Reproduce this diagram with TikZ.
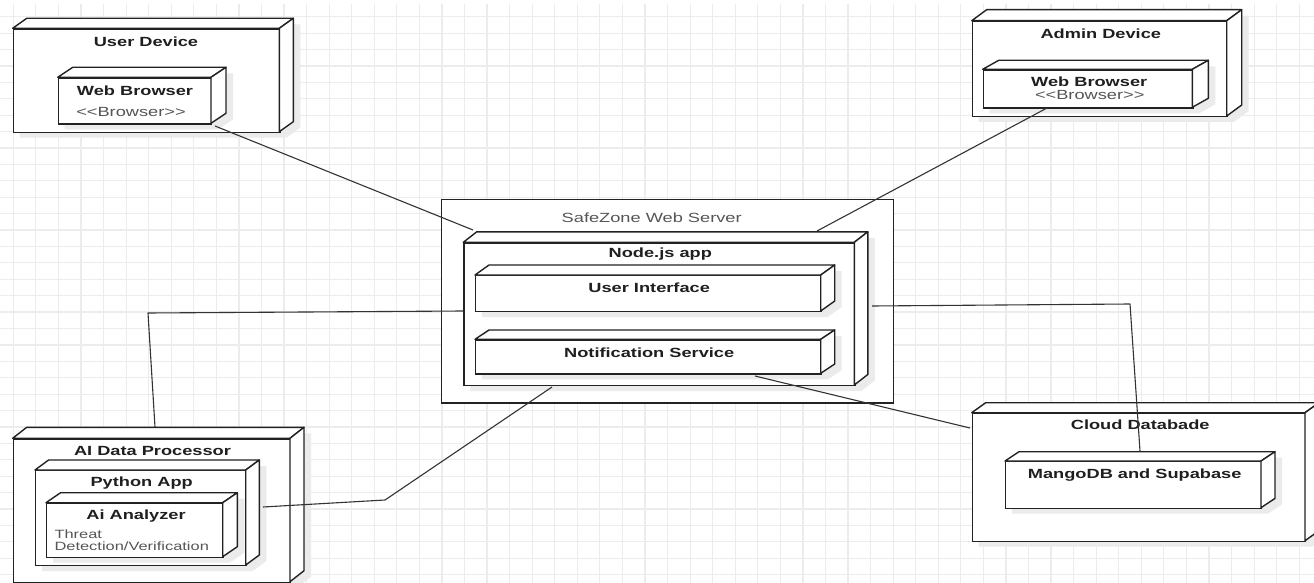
\documentclass[tikz,border=0pt]{standalone}
\usepackage{fontspec}
\setmainfont{Liberation Sans}[FakeStretch=1.37]
\usetikzlibrary{calc}
\definecolor{gridc}{HTML}{ECECEC}
\definecolor{shadc}{HTML}{EBEBEB}
\definecolor{edgec}{HTML}{222222}
\definecolor{linec}{HTML}{333333}
\definecolor{txtgray}{HTML}{555555}
\tikzset{
  front/.style={draw=edgec, fill=white, line width=1.4pt, inner sep=0pt, rectangle, anchor=north west},
  face/.style={draw=edgec, fill=white, line width=1.4pt, line join=round},
  shade3d/.style={fill=shadc},
  btxt/.style={font=\fontsize{13.3}{15}\selectfont\bfseries, text=black!88, inner sep=0pt},
  gtxt/.style={font=\fontsize{13.3}{15}\selectfont, text=txtgray, inner sep=0pt},
  stxt/.style={font=\fontsize{12}{11.7}\selectfont, text=txtgray, inner sep=0pt, align=left, anchor=north west},
  conn/.style={draw=linec, line width=1.1pt, line join=round},
  gridline/.style={draw=gridc, line width=1.2pt}
}
% name, x1, y1, x2, y2, dx, dy  (image pixel coordinates, y down)
\newcommand\mycube[7]{%
  \pgfmathsetmacro\cw{#4-#2}\pgfmathsetmacro\ch{#5-#3}%
  \fill[shade3d] (#2+7,#5+6) -- (#2+7,#3+6) -- (#2+7+#6,#3+6-#7) -- (#4+7+#6,#3+6-#7)
        -- (#4+7+#6,#5+6-#7) -- (#4+7,#5+6) -- cycle;
  \node[front, minimum width=\cw pt, minimum height=\ch pt] (#1) at (#2,#3) {};
  \filldraw[face] (#2,#3) -- (#2+#6,#3-#7) -- (#4+#6,#3-#7) -- (#4,#3) -- cycle;
  \filldraw[face] (#4,#3) -- (#4+#6,#3-#7) -- (#4+#6,#5-#7) -- (#4,#5) -- cycle;
}
\begin{document}
\begin{tikzpicture}[x=1pt,y=-1pt]
\useasboundingbox (0,0) rectangle (1314,583);
\fill[white] (0,0) rectangle (1314,583);
% grid
\foreach \i in {0,...,57} \draw[gridline] (13.3+\i*22.56,4) -- (13.3+\i*22.56,583);
\foreach \j in {0,...,34} \draw[gridline] (0,16.7+\j*16.41) -- (1314,16.7+\j*16.41);

% User device
\mycube{ud}{12.7}{28.3}{279.3}{131.7}{14}{10}
\mycube{uwb}{57.7}{77.3}{211}{123.3}{15}{10}
\node[btxt] (udt) at (146,41.7) {User Device};
\node[btxt] (uwbt) at (135,90.7) {Web Browser};
\node[gtxt] (uwbs) at (131,111.7) {<{}<Browser>{}>};

% Admin device
\mycube{ad}{971.7}{20.7}{1226.7}{116}{15}{11}
\mycube{awb}{982.7}{69.3}{1192.3}{107.3}{16}{9}
\node[btxt] (adt) at (1100.8,33.3) {Admin Device};
\node[btxt] (awbt) at (1089.2,81.7) {Web Browser};
\node[gtxt] (awbs) at (1089.7,95) {<{}<Browser>{}>};

% Server
\node[front, draw=edgec, fill=white, line width=1.4pt, minimum width=451.7pt, minimum height=203.3pt] (srv) at (441,199) {};
\node[gtxt] (srvt) at (651.7,217.7) {SafeZone Web Server};
\mycube{node}{463.3}{242.3}{854.3}{385}{13.5}{10.5}
\mycube{ui}{475}{275}{820.7}{311}{14}{10}
\mycube{ns}{475}{339.3}{820.7}{373.3}{14}{9.3}
\node[btxt] (nodet) at (660.3,254.3) {Node.js app};
\node[btxt] (uit) at (649.2,287.7) {User Interface};
\node[btxt] (nst) at (649.2,352.3) {Notification Service};

% AI processor
\mycube{aip}{12.7}{438.3}{290}{581.7}{14}{11}
\mycube{py}{35}{470}{245.7}{565}{13.6}{10}
\mycube{aia}{46}{502.7}{222.7}{556.7}{14.6}{10}
\node[btxt] (aipt) at (152.5,450.7) {AI Data Processor};
\node[btxt] (pyt) at (141.7,483.3) {Python App};
\node[btxt] (aiat) at (136,516) {Ai Analyzer};
\node[stxt] (aias) at (54.3,529.8) {Threat\\Detection/Verification};

% Cloud database
\mycube{cd}{971.7}{412.7}{1305}{540.7}{14}{10}
\mycube{mg}{1005}{461}{1261}{507.7}{14}{9.3}
\node[btxt] (cdt) at (1140.2,425) {Cloud Databade};
\node[btxt] (mgt) at (1134.7,475) {MangoDB and Supabase};

% connector end points
\coordinate (p1a) at (215,126);   \coordinate (p1b) at (473,230);
\coordinate (p2a) at (1047,108);  \coordinate (p2b) at (817,231);
\coordinate (p3a) at (155,427);   \coordinate (p3m) at (148,313); \coordinate (p3b) at (463,311);
\coordinate (p4a) at (263,507);   \coordinate (p4m) at (385,500); \coordinate (p4b) at (552,387);
\coordinate (p5a) at (755,376);   \coordinate (p5b) at (970,428);
\coordinate (p6a) at (872,306);   \coordinate (p6m) at (1130,304); \coordinate (p6b) at (1140,451);

\draw[conn] (p1a) -- (p1b);
\draw[conn] (p2a) -- (p2b);
\draw[conn] (p3a) -- (p3m) -- (p3b);
\draw[conn] (p4a) -- (p4m) -- (p4b);
\draw[conn] (p5a) -- (p5b);
\draw[conn] (p6a) -- (p6m) -- (p6b);
\end{tikzpicture}
\end{document}
